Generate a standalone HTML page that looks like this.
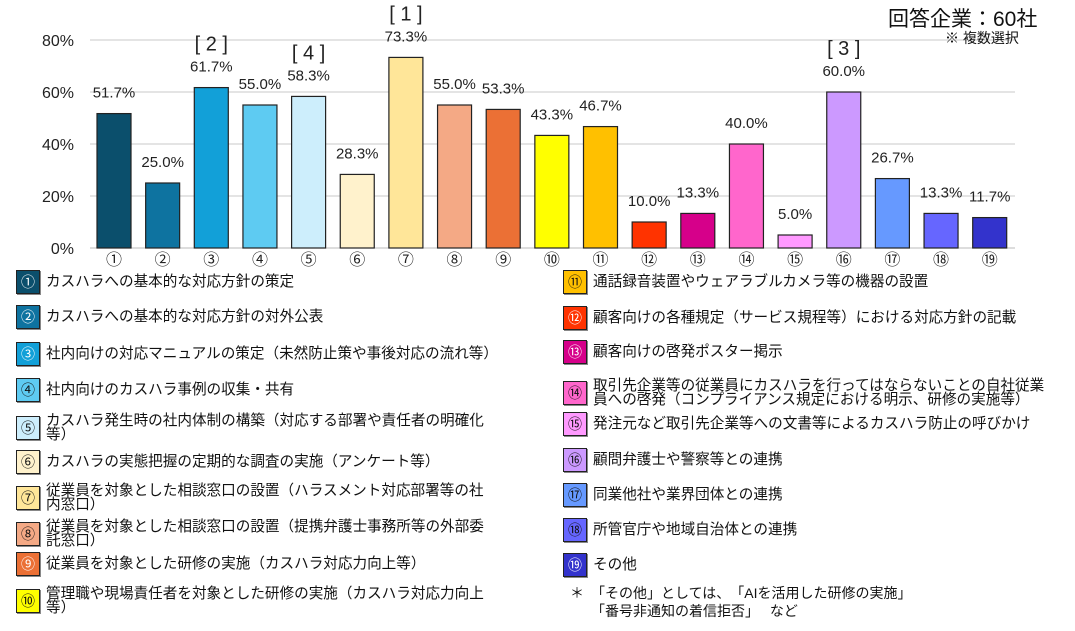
<!DOCTYPE html>
<html><head><meta charset="utf-8">
<style>
body{margin:0;width:1075px;height:631px;background:#fff;overflow:hidden;font-family:"Liberation Sans","Noto Sans CJK JP",sans-serif;color:#111}
svg text{font-family:"Liberation Sans","Noto Sans CJK JP",sans-serif}
.lg{position:absolute;display:flex;align-items:center;font-size:14.6px;line-height:14px}
.bx{width:22px;height:22px;border:1.5px solid #222;box-shadow:1px 1px 0 #888;display:flex;align-items:center;justify-content:center;font-size:14px;margin-right:6px;flex:none}
.tx{width:446px}
</style></head><body>
<svg id="chart" width="1075" height="270" style="position:absolute;left:0;top:0"></svg>
<div id="legend"></div>
<div style="position:absolute;left:888px;top:3px;font-size:21px">回答企業：60社</div>
<div style="position:absolute;left:945px;top:28px;font-size:14px">※ 複数選択</div>
<div style="position:absolute;left:570px;top:584px;font-size:14px;line-height:18px">＊　「その他」としては、　「AIを活用した研修の実施」<br>　　「番号非通知の着信拒否」　 など</div>
<script>
const categories=["①","②","③","④","⑤","⑥","⑦","⑧","⑨","⑩","⑪","⑫","⑬","⑭","⑮","⑯","⑰","⑱","⑲"];
const values=[51.7,25.0,61.7,55.0,58.3,28.3,73.3,55.0,53.3,43.3,46.7,10.0,13.3,40.0,5.0,60.0,26.7,13.3,11.7];
const ranks=["","","[ 2 ]","","[ 4 ]","","[ 1 ]","","","","","","","","","[ 3 ]","","",""];
const colors=["#0b4f6c","#0e73a0","#12a0d8","#5ecbf2","#cdeefc","#fff2cc","#ffe699","#f4a985","#eb7035","#ffff00","#ffc000","#ff3300","#d6008a","#ff66cc","#ff99ff","#cc99ff","#6699ff","#6666ff","#3333cc"];
const yTicks=[0,20,40,60,80];
const labels=["カスハラへの基本的な対応方針の策定","カスハラへの基本的な対応方針の対外公表","社内向けの対応マニュアルの策定（未然防止策や事後対応の流れ等）","社内向けのカスハラ事例の収集・共有","カスハラ発生時の社内体制の構築（対応する部署や責任者の明確化等）","カスハラの実態把握の定期的な調査の実施（アンケート等）","従業員を対象とした相談窓口の設置（ハラスメント対応部署等の社内窓口）","従業員を対象とした相談窓口の設置（提携弁護士事務所等の外部委託窓口）","従業員を対象とした研修の実施（カスハラ対応力向上等）","管理職や現場責任者を対象とした研修の実施（カスハラ対応力向上等）","通話録音装置やウェアラブルカメラ等の機器の設置","顧客向けの各種規定（サービス規程等）における対応方針の記載","顧客向けの啓発ポスター掲示","取引先企業等の従業員にカスハラを行ってはならないことの自社従業員への啓発（コンプライアンス規定における明示、研修の実施等）","発注元など取引先企業等への文書等によるカスハラ防止の呼びかけ","顧問弁護士や警察等との連携","同業他社や業界団体との連携","所管官庁や地域自治体との連携","その他"];
const rowY=[283,318,355,391,427,463,497,533,565,600,283,319,353,392,425,461,496,531,566];
const NS="http://www.w3.org/2000/svg";
const svg=document.getElementById('chart');
const y=v=>248-v*2.6;
const xc=i=>114+i*48.65;
function mk(t,a){const e=document.createElementNS(NS,t);for(const k in a)e.setAttribute(k,a[k]);svg.appendChild(e);return e;}
yTicks.forEach(t=>{
 const l=mk('line',{x1:90,x2:1015,y1:y(t),y2:y(t),stroke:t?'#c8c8c8':'#bbb','stroke-width':1});
 
 
 const tx=mk('text',{x:74,y:y(t)+6,'font-size':16,'text-anchor':'end',fill:'#222'});tx.textContent=t+'%';
 
 
});
values.forEach((v,i)=>{
 const r=mk('rect',{x:xc(i)-17,y:y(v),width:34,height:y(0)-y(v),fill:colors[i],stroke:'#222','stroke-width':1.2});
 
 
 const t=mk('text',{x:xc(i),y:y(v)-16,'font-size':15,'text-anchor':'middle',fill:'#222'});t.textContent=v.toFixed(1)+'%';
 
 
 if(ranks[i]){const k=mk('text',{x:xc(i),y:y(v)-37,'font-size':20,'text-anchor':'middle',fill:'#222'});k.textContent=ranks[i];
 
 }
 const c=mk('text',{x:xc(i),y:265,'font-size':16,'text-anchor':'middle',fill:'#222'});c.textContent=categories[i];
 
 
});
const lg=document.getElementById('legend');
labels.forEach((s,i)=>{
 const d=document.createElement('div');d.className='lg';
 
 
 d.style.left=(i<10?16:563)+'px';d.style.top=(rowY[i]-13)+'px';
 const dark=[0,1,2,8,11,12,18].includes(i);
 d.innerHTML='<div class="bx" style="background:'+colors[i]+';color:'+(dark?'#fff':'#111')+'">'+categories[i]+'</div><div class="tx"'+(i>=10?' style="width:460px"':'')+'>'+s+'</div>';
 lg.appendChild(d);
});
</script>
</body></html>
